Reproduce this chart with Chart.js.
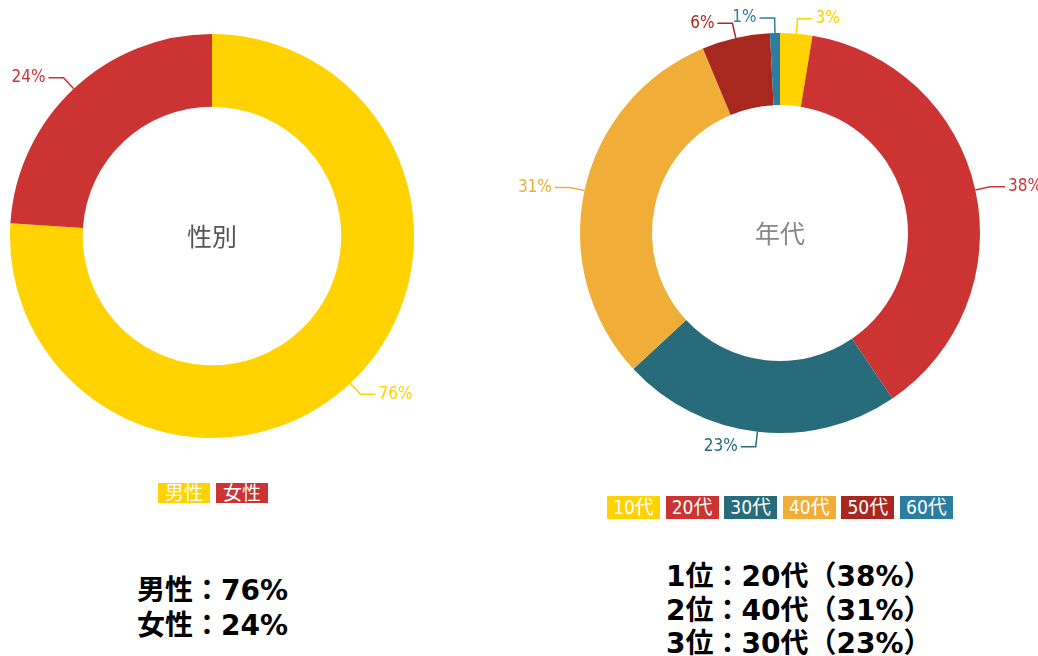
<!DOCTYPE html>
<html>
<head>
<meta charset="utf-8">
<script src="https://cdn.jsdelivr.net/npm/chart.js@4"></script>
<style>
  body { margin: 0; background: #fff; width: 1038px; height: 656px; position: relative; overflow: hidden; }
  canvas { position: absolute; top: 0; }
  #genderChart { left: 0; }
  #ageChart { left: 480px; }
  .legend { position: absolute; display: flex; gap: 6px; }
  .legend span {
    display: block; color: #fff; text-align: center;
    font-family: "Liberation Sans Narrow", "DejaVu Sans Condensed", "Noto Sans CJK JP", sans-serif;
    font-size: 19px;
  }
  #genderLegend { left: 158px; top: 483px; }
  #genderLegend span { width: 52px; height: 20px; line-height: 20px; }
  #ageLegend { left: 607px; top: 496px; gap: 5.6px; }
  #ageLegend span { width: 53px; height: 23px; line-height: 23px; }
  .summary {
    position: absolute; font-family: "DejaVu Sans", "Noto Sans CJK JP", sans-serif;
    font-weight: bold; font-size: 28px; color: #000; white-space: nowrap;
  }
  #genderSummary { left: 137px; top: 573px; line-height: 35px; }
  #ageSummary { left: 666px; top: 560px; line-height: 33.5px; }
</style>
</head>
<body>
<canvas id="genderChart" width="470" height="470"></canvas>
<canvas id="ageChart" width="558" height="470"></canvas>
<div class="legend" id="genderLegend"></div>
<div class="legend" id="ageLegend"></div>
<div class="summary" id="genderSummary">男性：76%<br>女性：24%</div>
<div class="summary" id="ageSummary">1位：20代（38%）<br>2位：40代（31%）<br>3位：30代（23%）</div>
<script>
// 性別
const genderLabels = ['男性', '女性'];
const genderValues = [76, 24];
const genderColors = ['#FFD200', '#CC3333'];

// 年代
const ageLabels = ['10代', '20代', '30代', '40代', '50代', '60代'];
const ageValues = [2.6, 37.9, 22.6, 30.6, 5.5, 0.8];
const ageColors = ['#FFD200', '#CC3333', '#286B7A', '#F0AE38', '#A8281F', '#2C7DA0'];

// percent labels outside the ring with a bent leader line
const outsideLabels = {
  id: 'outsideLabels',
  afterDatasetsDraw(chart) {
    const ctx = chart.ctx;
    const ds = chart.data.datasets[0];
    const total = ds.data.reduce((a, b) => a + b, 0);
    const meta = chart.getDatasetMeta(0);
    ctx.save();
    ctx.font = '17px "Liberation Sans Narrow", "DejaVu Sans Condensed", sans-serif';
    ctx.textBaseline = 'middle';
    ctx.lineWidth = 1.5;
    meta.data.forEach((arc, i) => {
      const p = arc.getProps(['x', 'y', 'startAngle', 'endAngle', 'outerRadius'], true);
      const mid = (p.startAngle + p.endAngle) / 2;
      const cos = Math.cos(mid), sin = Math.sin(mid);
      const x0 = p.x + cos * p.outerRadius, y0 = p.y + sin * p.outerRadius;
      const x1 = p.x + cos * (p.outerRadius + 15), y1 = p.y + sin * (p.outerRadius + 15);
      const dir = cos >= 0 ? 1 : -1;
      const x2 = x1 + dir * 15;
      ctx.strokeStyle = ds.backgroundColor[i];
      ctx.beginPath();
      ctx.moveTo(x0, y0);
      ctx.lineTo(x1, y1);
      ctx.lineTo(x2, y1);
      ctx.stroke();
      ctx.fillStyle = ds.backgroundColor[i];
      ctx.textAlign = dir > 0 ? 'left' : 'right';
      ctx.fillText(Math.round(ds.data[i] / total * 100) + '%', x2 + dir * 3, y1);
    });
    ctx.restore();
  }
};

const centerText = {
  id: 'centerText',
  afterDraw(chart, args, opts) {
    const arc = chart.getDatasetMeta(0).data[0];
    const ctx = chart.ctx;
    ctx.save();
    ctx.font = '25px "Noto Sans CJK JP", sans-serif';
    ctx.fillStyle = opts.color;
    ctx.textAlign = 'center';
    ctx.textBaseline = 'middle';
    ctx.fillText(opts.text, arc.x, arc.y);
    ctx.restore();
  }
};

function makeDonut(id, labels, values, colors, padding, title, titleColor) {
  return new Chart(document.getElementById(id), {
    type: 'doughnut',
    data: {
      labels: labels,
      datasets: [{ data: values, backgroundColor: colors, borderWidth: 0 }]
    },
    options: {
      responsive: false,
      animation: false,
      cutout: '64%',
      layout: { padding: padding },
      plugins: {
        legend: { display: false },
        tooltip: { enabled: false },
        centerText: { text: title, color: titleColor }
      }
    },
    plugins: [outsideLabels, centerText]
  });
}

makeDonut('genderChart', genderLabels, genderValues, genderColors,
  { left: 10, top: 34, right: 56, bottom: 32 }, '性別', '#555');
makeDonut('ageChart', ageLabels, ageValues, ageColors,
  { left: 100, top: 33, right: 58, bottom: 37 }, '年代', '#888');

function buildLegend(elId, labels, colors) {
  const el = document.getElementById(elId);
  labels.forEach((l, i) => {
    const s = document.createElement('span');
    s.textContent = l;
    s.style.background = colors[i];
    el.appendChild(s);
  });
}
buildLegend('genderLegend', genderLabels, genderColors);
buildLegend('ageLegend', ageLabels, ageColors);
</script>
</body>
</html>
